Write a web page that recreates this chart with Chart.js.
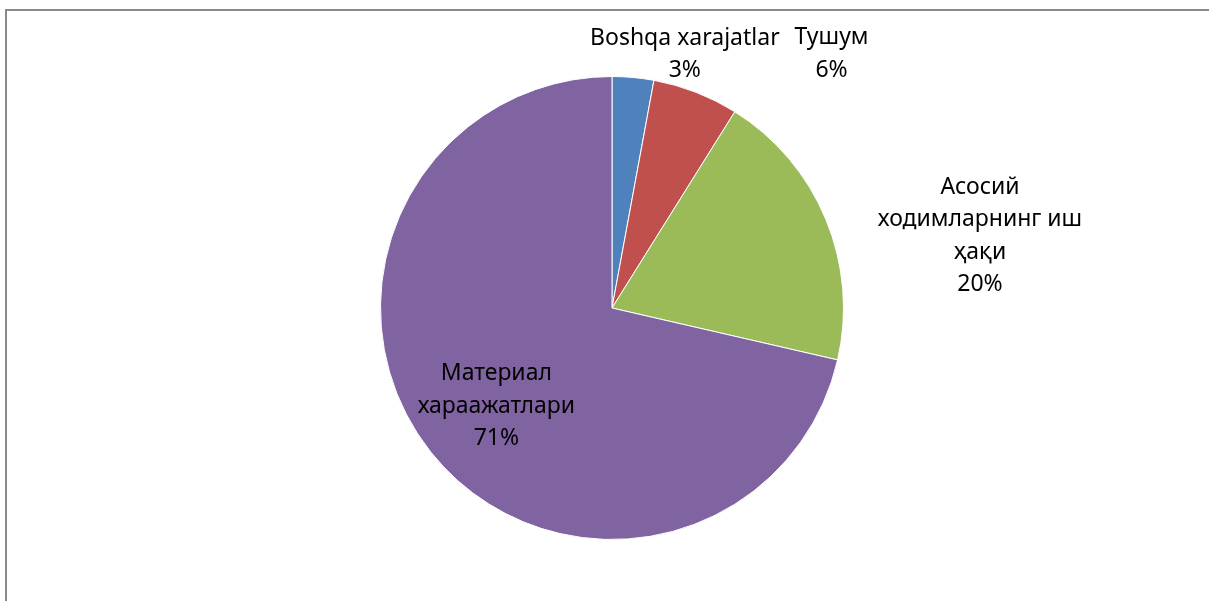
<!DOCTYPE html>
<html>
<head>
<meta charset="utf-8">
<script src="https://cdn.jsdelivr.net/npm/chart.js@4"></script>
<style>
  html, body { margin: 0; padding: 0; background: #fff; overflow: hidden; }
  #frame {
    position: absolute; left: 5px; top: 9px; width: 1220px; height: 620px;
    border-left: 2px solid #8a8a8a; border-top: 2px solid #8a8a8a;
    box-sizing: border-box;
  }
  #wrap { position: absolute; left: 0; top: 0; width: 1209px; height: 601px; }
</style>
</head>
<body>
<div id="frame"></div>
<div id="wrap"><canvas id="pieChart" width="1209" height="601"></canvas></div>
<script>
const categorias = ['Boshqa xarajatlar', 'Тушум', 'Асосий ходимларнинг иш ҳақи', 'Материал хараажатлари'];
const rotulos = [
    ['Boshqa xarajatlar'],
    ['Тушум'],
    ['Асосий', 'ходимларнинг иш', 'ҳақи'],
    ['Материал', 'хараажатлари']
];
const valores = [2.9, 6.0, 19.7, 71.4];
const cores = ['#4f81bd', '#c0504d', '#9bbb59', '#8064a2'];

// onde cada rótulo fica: desvio do ângulo (graus) e fração do raio
const posRotulos = [
    { giro: 10.8, raio: 1.14 },
    { giro: 19.6, raio: 1.45 },
    { giro: 11.4, raio: 1.62 },
    { giro: -1.8, raio: 0.655 }
];

const rotulosPlugin = {
    id: 'rotulos',
    afterDatasetsDraw(chart) {
        const ctx = chart.ctx;
        const meta = chart.getDatasetMeta(0);
        const total = valores.reduce((a, b) => a + b, 0);
        ctx.save();
        ctx.font = '23px "Noto Sans"';
        ctx.fillStyle = '#000';
        ctx.textAlign = 'center';
        ctx.textBaseline = 'middle';
        meta.data.forEach((arc, i) => {
            const p = arc.getProps(['x', 'y', 'startAngle', 'endAngle', 'outerRadius'], true);
            const ang = (p.startAngle + p.endAngle) / 2 + posRotulos[i].giro * Math.PI / 180;
            const r = p.outerRadius * posRotulos[i].raio;
            const cx = p.x + Math.cos(ang) * r;
            const cy = p.y + Math.sin(ang) * r;
            const linhas = rotulos[i].concat([Math.round(valores[i] / total * 100) + '%']);
            const alt = 32.5;
            const y0 = cy - (linhas.length - 1) * alt / 2;
            linhas.forEach((t, j) => ctx.fillText(t, cx, y0 + j * alt));
        });
        ctx.restore();
    }
};

new Chart(document.getElementById('pieChart').getContext('2d'), {
    type: 'pie',
    data: {
        labels: categorias,
        datasets: [{
            data: valores,
            backgroundColor: cores,
            borderColor: '#ffffff',
            borderWidth: 1
        }]
    },
    options: {
        responsive: false,
        animation: false,
        layout: { padding: { top: 76, bottom: 61, left: 15, right: 0 } },
        plugins: {
            legend: { display: false },
            tooltip: { enabled: false }
        }
    },
    plugins: [rotulosPlugin]
});
</script>
</body>
</html>
